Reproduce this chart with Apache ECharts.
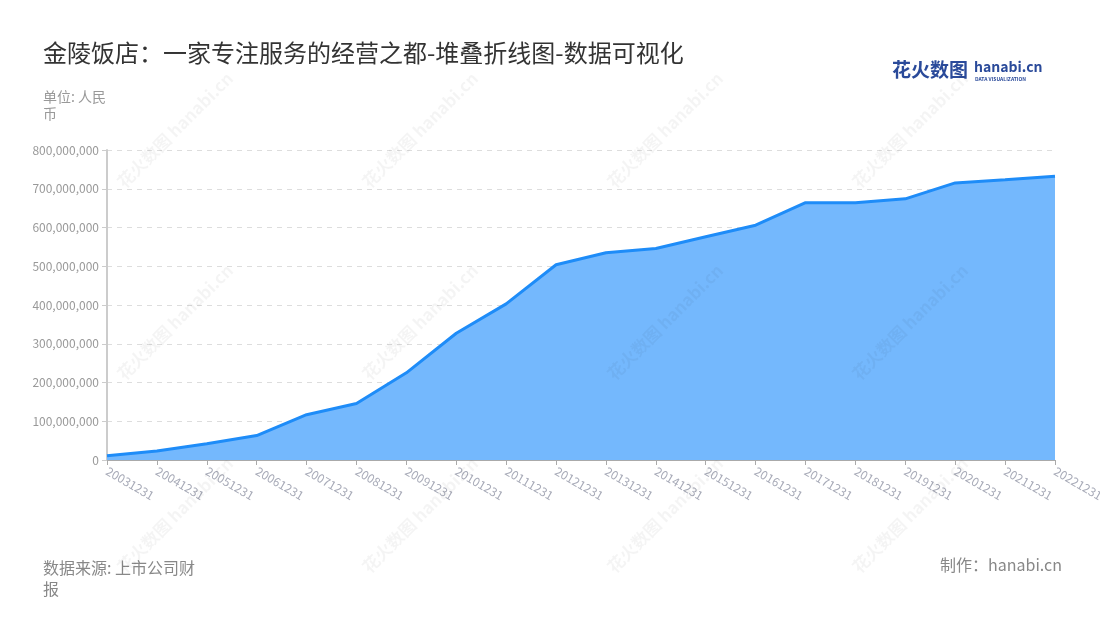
<!DOCTYPE html>
<html>
<head>
<meta charset="utf-8">
<script src="https://cdn.jsdelivr.net/npm/echarts@6/dist/echarts.min.js"></script>
<style>
html,body{margin:0;padding:0;background:#fff;}
#main{width:1100px;height:620px;}
</style>
</head>
<body>
<div id="main"></div>
<script>
const categories = ['20031231','20041231','20051231','20061231','20071231','20081231','20091231','20101231','20111231','20121231','20131231','20141231','20151231','20161231','20171231','20181231','20191231','20201231','20211231','20221231'];
const revenue = [11000000,23000000,42000000,63000000,117000000,146000000,225000000,327000000,403000000,504000000,535000000,546000000,576000000,606000000,664000000,664000000,674000000,715000000,723000000,732000000];
const yTicks = {min:0, max:800000000, interval:100000000};

const FONT = '"Noto Sans CJK SC","Noto Sans",sans-serif';
const chart = echarts.init(document.getElementById('main'));

const watermarks = [];
const wmX = [175, 420, 665, 910];
const wmY = [130, 322, 515];
wmX.forEach(x => wmY.forEach(y => {
  watermarks.push({
    type: 'text', x: x, y: y, rotation: Math.PI/4, silent: true, z: 100,
    style: { text: '花火数图 hanabi.cn', fill: 'rgba(0,0,0,0.045)', font: 'bold 17px ' + FONT, align: 'center', verticalAlign: 'middle' }
  });
}));

chart.setOption({
  backgroundColor: '#fff',
  animation: false,
  title: {
    text: '金陵饭店：一家专注服务的经营之都-堆叠折线图-数据可视化',
    left: 38, top: 36,
    textStyle: { fontFamily: FONT, fontSize: 24, fontWeight: 'normal', color: '#333' }
  },
  grid: { left: 107, right: 45, top: 150, bottom: 160, containLabel: false, outerBoundsMode: 'none' },
  xAxis: {
    type: 'category',
    data: categories,
    boundaryGap: false,
    axisLine: { lineStyle: { color: '#aaa' } },
    axisTick: { show: true, alignWithLabel: true, lineStyle: { color: '#aaa' } },
    axisLabel: { rotate: -30, interval: 0, color: '#a8abb8', fontSize: 12, fontFamily: FONT, margin: 10 }
  },
  yAxis: {
    type: 'value',
    min: yTicks.min, max: yTicks.max, interval: yTicks.interval,
    axisLine: { show: true, lineStyle: { color: '#ccc', width: 2 } },
    axisTick: { show: true, lineStyle: { color: '#ccc' } },
    axisLabel: {
      color: '#999', fontSize: 12, fontFamily: FONT, margin: 8,
      formatter: v => v.toLocaleString('en-US')
    },
    splitLine: { show: true, lineStyle: { color: '#ddd', type: [5, 5] } }
  },
  series: [{
    type: 'line',
    data: revenue,
    stack: 'total',
    symbol: 'none',
    lineStyle: { color: '#1e8cf8', width: 3 },
    areaStyle: { color: '#74b8fd', opacity: 1 },
    itemStyle: { color: '#1e8cf8' }
  }],
  graphic: [
    { type: 'text', left: 43, top: 88, style: { text: '单位: 人民\n币', fill: '#999', font: '14px ' + FONT, lineHeight: 17 } },
    { type: 'text', left: 43, top: 557, style: { text: '数据来源: 上市公司财\n报', fill: '#888', font: '16px ' + FONT, lineHeight: 21 } },
    { type: 'text', right: 38, top: 557, style: { text: '制作：hanabi.cn', fill: '#888', font: '16px ' + FONT } },
    { type: 'text', left: 892, top: 60, style: { text: '花火数图', fill: '#2a4a9a', font: 'bold 19px ' + FONT } },
    { type: 'text', left: 974, top: 60, style: { text: 'hanabi.cn', fill: '#2a4a9a', font: 'bold 14px ' + FONT } },
    { type: 'text', left: 975, top: 77, style: { text: 'DATA VISUALIZATION', fill: '#2a4a9a', font: 'bold 5px ' + FONT } },
    ...watermarks
  ]
});
</script>
</body>
</html>
